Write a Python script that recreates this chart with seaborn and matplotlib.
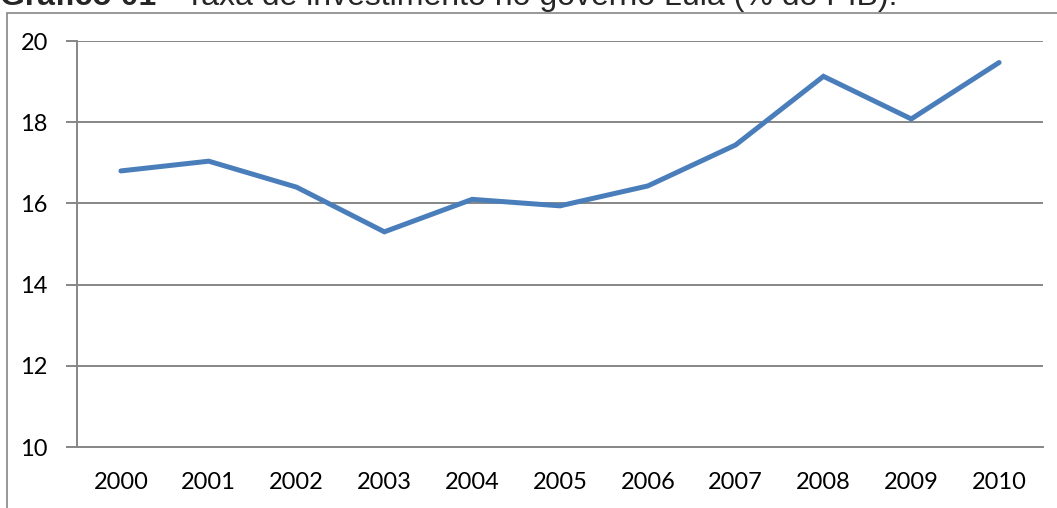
import matplotlib
matplotlib.use("Agg")
import matplotlib.pyplot as plt
import seaborn as sns
import pandas as pd
import numpy as np
from matplotlib.patches import Rectangle

years = ["2000", "2001", "2002", "2003", "2004", "2005", "2006", "2007", "2008", "2009", "2010"]
taxa = [16.8, 17.04, 16.4, 15.3, 16.1, 15.94, 16.43, 17.44, 19.13, 18.08, 19.47]
y_ticks = [10, 12, 14, 16, 18, 20]

sns.set_theme(style="white")
plt.rcParams["font.family"] = ["Lato", "DejaVu Sans"]

df = pd.DataFrame({"pos": np.arange(len(years)), "taxa": taxa})

fig = plt.figure(figsize=(10.57, 5.08), dpi=100)
ax = fig.add_axes([77 / 1057, 1 - 447 / 508, (1043 - 77) / 1057, (447 - 41) / 508])

grid_c = "#868686"
for v in y_ticks[1:]:
    ax.axhline(v, color=grid_c, lw=1.4, zorder=1)

sns.lineplot(data=df, x="pos", y="taxa", ax=ax, color="#4A7EBB", lw=3.6,
             solid_capstyle="round", solid_joinstyle="miter", zorder=3)

ax.set_xlim(-0.5, len(years) - 0.5)
ax.set_ylim(10, 20)
ax.set_yticks(y_ticks)
ax.set_yticklabels([str(v) for v in y_ticks], fontsize=17, color="black")
ax.set_xticks(np.arange(len(years)))
ax.set_xticklabels(years, fontsize=17, color="black")
ax.set_xticks(np.arange(len(years) + 1) - 0.5, minor=True)
ax.tick_params(axis="x", which="major", length=0, pad=18)
ax.tick_params(axis="x", which="minor", length=8, width=1.4, color=grid_c, direction="out")
ax.tick_params(axis="y", which="major", length=8, width=1.4, color=grid_c, direction="out", pad=13, left=True)
ax.set_xlabel("")
ax.set_ylabel("")
for side in ["top", "right"]:
    ax.spines[side].set_visible(False)
for side in ["left", "bottom"]:
    ax.spines[side].set_color(grid_c)
    ax.spines[side].set_linewidth(1.4)

# Chart area frame (runs past the lower and right edges)
fig.patches.append(Rectangle((7 / 1057, -0.1), 1.2, 1 - 13 / 508 + 0.1,
                             transform=fig.transFigure, fill=False,
                             edgecolor="#868686", lw=1.2))

# Caption above the chart
fig.text(0.0, 1 - 5 / 508, "Gráfico 01", fontsize=23, fontweight="bold",
         family=["Liberation Sans", "DejaVu Sans"], va="baseline", ha="left")
fig.text(150 / 1057, 1 - 5 / 508, " – Taxa de investimento no governo Lula (% do PIB).",
         fontsize=23, family=["Liberation Sans", "DejaVu Sans"], va="baseline", ha="left")

fig.savefig("out.png", dpi=100)
